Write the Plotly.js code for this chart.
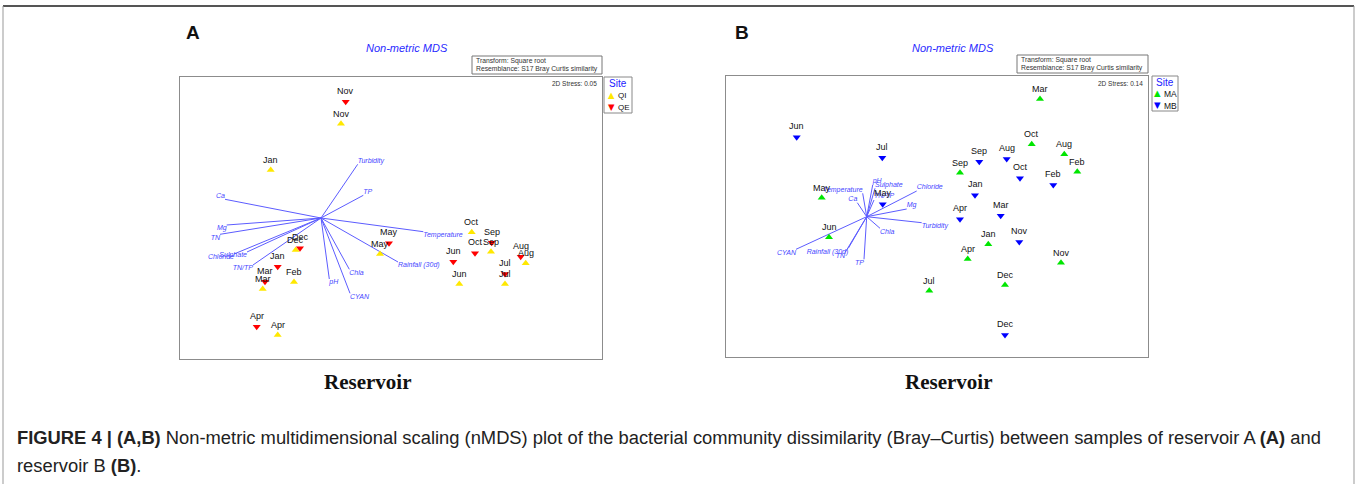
<!DOCTYPE html>
<html><head><meta charset="utf-8">
<script src="https://cdn.plot.ly/plotly-3.0.1.min.js"></script>
<style>html,body{margin:0;padding:0;background:#fff}#chart{width:1357px;height:484px}</style>
</head><body><div id="chart"></div>
<script>
// ---------- Panel A: reservoir A, sites QI / QE (nMDS coordinates) ----------
const qiMonths = ['Nov','Jan','Dec','Mar','Feb','Apr','May','Jun','Jul','Aug','Sep','Oct'];
const qiX = [-0.50,-1.203,-0.953,-1.283,-0.97,-1.133,-0.11,0.683,1.14,1.347,1.00,0.807];
const qiY = [0.943,0.48,-0.32,-0.71,-0.64,-1.17,-0.36,-0.66,-0.66,-0.453,-0.337,-0.143];
const qeMonths = ['Nov','Jan','Dec','Mar','Apr','May','Jun','Jul','Aug','Sep','Oct'];
const qeX = [-0.453,-1.133,-0.91,-1.26,-1.343,-0.02,0.623,1.14,1.297,1.007,0.84];
const qeY = [1.163,-0.487,-0.303,-0.637,-1.087,-0.253,-0.437,-0.56,-0.387,-0.247,-0.353];
const vecOriginA = [-0.70, 0.0];
const vecNamesA = ['Turbidity','TP','Ca','Mg','TN','Chloride','Sulphate','TN/TP','pH','Chla','CYAN','Rainfall (30d)','Temperature'];
const vecXA = [-0.333,-0.277,-1.66,-1.643,-1.71,-1.57,-1.44,-1.38,-0.617,-0.417,-0.41,0.07,0.323];
const vecYA = [0.537,0.227,0.187,-0.07,-0.163,-0.36,-0.34,-0.47,-0.61,-0.513,-0.753,-0.44,-0.137];

// ---------- Panel B: reservoir B, sites MA / MB ----------
const maMonths = ['Mar','Oct','Aug','Feb','Sep','Jan','Apr','Nov','Dec','Jul','May','Jun'];
const maX = [1.03,0.947,1.273,1.403,0.23,0.513,0.307,1.24,0.68,-0.077,-1.153,-1.08];
const maY = [1.175,0.722,0.622,0.448,0.438,-0.278,-0.425,-0.462,-0.685,-0.742,0.188,-0.208];
const mbMonths = ['Jun','Jul','Sep','Aug','Oct','Feb','Jan','Apr','Mar','Nov','Dec','May'];
const mbX = [-1.403,-0.547,0.423,0.697,0.83,1.163,0.38,0.23,0.637,0.823,0.68,-0.543];
const mbY = [0.792,0.588,0.548,0.575,0.382,0.315,0.212,-0.028,0.008,-0.255,-1.185,0.122];
const vecOriginB = [-0.703, -0.002];
const vecNamesB = ['Temperature','Ca','pH','Sulphate','TN/TP','Chloride','Mg','Turbidity','Chla','CYAN','Rainfall (30d)','TN','TP'];
const vecXB = [-0.743,-0.797,-0.643,-0.62,-0.63,-0.203,-0.303,-0.153,-0.57,-1.41,-0.887,-0.92,-0.73];
const vecYB = [0.232,0.138,0.315,0.282,0.165,0.255,0.075,-0.062,-0.118,-0.328,-0.318,-0.362,-0.428];

const stressA = '0.05', stressB = '0.14';

// ---------- helpers ----------
const W = 1357, H = 484;
const px = x => x / W, py = y => 1 - y / H;
const FONT = 'Liberation Sans, Arial, sans-serif';
const VEC_LINE = '#5c5cff', VEC_TXT = '#4646ff';

function vectorTraces(o, xs, ys, names, xa, ya) {
  const lx = [], ly = [];
  xs.forEach((x, i) => { lx.push(o[0], x, null); ly.push(o[1], ys[i], null); });
  const pos = xs.map((x, i) => ((ys[i] - o[1]) >= 0 ? 'top ' : 'bottom ') + ((x - o[0]) >= 0 ? 'right' : 'left'));
  return [
    {x: lx, y: ly, xaxis: xa, yaxis: ya, mode: 'lines', line: {color: VEC_LINE, width: 1}, hoverinfo: 'skip', cliponaxis: false},
    {x: xs, y: ys, xaxis: xa, yaxis: ya, mode: 'text', text: names, textposition: pos,
     textfont: {family: FONT, size: 7, color: VEC_TXT, style: 'italic'}, hoverinfo: 'skip', cliponaxis: false}
  ];
}
function markerTrace(xs, ys, sym, color, xa, ya) {
  return {x: xs, y: ys, xaxis: xa, yaxis: ya, mode: 'markers',
    marker: {symbol: sym, size: 7, color: color, line: {width: 0}}, hoverinfo: 'skip', cliponaxis: false};
}
function monthLabels(xs, ys, names, xr, yr, shift) {
  return xs.map((x, i) => ({x: x, y: ys[i], xref: xr, yref: yr, text: names[i], showarrow: false,
    yshift: shift, font: {family: FONT, size: 9, color: '#111'}}));
}
function paperText(x, y, text, size, color, opts) {
  return Object.assign({x: px(x), y: py(y), xref: 'paper', yref: 'paper', text: text, showarrow: false,
    font: {family: FONT, size: size, color: color}, xanchor: 'center', yanchor: 'middle'}, opts || {});
}

const data = [].concat(
  vectorTraces(vecOriginA, vecXA, vecYA, vecNamesA, 'x', 'y'),
  [markerTrace(qiX, qiY, 'triangle-up', '#ffe800', 'x', 'y'),
   markerTrace(qeX, qeY, 'triangle-down', '#ff0000', 'x', 'y')],
  vectorTraces(vecOriginB, vecXB, vecYB, vecNamesB, 'x2', 'y2'),
  [markerTrace(maX, maY, 'triangle-up', '#00e600', 'x2', 'y2'),
   markerTrace(mbX, mbY, 'triangle-down', '#0000ff', 'x2', 'y2')]
);

const axisBase = {showline: true, mirror: true, linecolor: '#8c8c8c', linewidth: 1, showgrid: false,
  zeroline: false, showticklabels: false, ticks: '', fixedrange: true};

const annotations = [].concat(
  monthLabels(qiX, qiY, qiMonths, 'x', 'y', 10),
  monthLabels(qeX, qeY, qeMonths, 'x', 'y', 11),
  monthLabels(maX, maY, maMonths, 'x2', 'y2', 10),
  monthLabels(mbX, mbY, mbMonths, 'x2', 'y2', 11),
  [
    paperText(193, 33, '<b>A</b>', 19, '#111'),
    paperText(742, 33, '<b>B</b>', 19, '#111'),
    paperText(407, 48.5, 'Non-metric MDS', 11, '#2a2aff', {font: {family: FONT, size: 11, color: '#2a2aff', style: 'italic'}}),
    paperText(953, 48, 'Non-metric MDS', 11, '#2a2aff', {font: {family: FONT, size: 11, color: '#2a2aff', style: 'italic'}}),
    paperText(473.5, 60.5, 'Transform: Square root', 6.8, '#333', {xanchor: 'left'}),
    paperText(473.5, 69, 'Resemblance: S17 Bray Curtis similarity', 6.8, '#333', {xanchor: 'left'}),
    paperText(1019, 59.5, 'Transform: Square root', 6.8, '#333', {xanchor: 'left'}),
    paperText(1019, 67.8, 'Resemblance: S17 Bray Curtis similarity', 6.8, '#333', {xanchor: 'left'}),
    paperText(599, 84, '2D Stress: ' + stressA, 6.5, '#333', {xanchor: 'right'}),
    paperText(1145, 83, '2D Stress: ' + stressB, 6.5, '#333', {xanchor: 'right'}),
    // legends
    paperText(618, 83.5, 'Site', 10, '#2222ff'),
    paperText(611, 95, '▲', 8.5, '#ffe800', {font: {family: 'DejaVu Sans', size: 8.5, color: '#ffe800'}}),
    paperText(616, 95.5, 'QI', 8, '#111', {xanchor: 'left'}),
    paperText(611, 107, '▼', 8.5, '#ff0000', {font: {family: 'DejaVu Sans', size: 8.5, color: '#ff0000'}}),
    paperText(616, 107.5, 'QE', 8, '#111', {xanchor: 'left'}),
    paperText(1165, 82, 'Site', 10, '#2222ff'),
    paperText(1157, 93.5, '▲', 8.5, '#00e600', {font: {family: 'DejaVu Sans', size: 8.5, color: '#00e600'}}),
    paperText(1162, 94, 'MA', 8.5, '#111', {xanchor: 'left'}),
    paperText(1157, 105.5, '▼', 8.5, '#0000ff', {font: {family: 'DejaVu Sans', size: 8.5, color: '#0000ff'}}),
    paperText(1162, 106, 'MB', 8.5, '#111', {xanchor: 'left'}),
    // panel captions
    paperText(367, 382, '<b>Reservoir</b>', 21, '#111', {font: {family: 'Liberation Serif, Times New Roman, serif', size: 21, color: '#111'}}),
    paperText(948.5, 382, '<b>Reservoir</b>', 21, '#111', {font: {family: 'Liberation Serif, Times New Roman, serif', size: 21, color: '#111'}}),
    // figure caption
    paperText(15, 437, '<b>FIGURE 4 | (A,B)</b> Non-metric multidimensional scaling (nMDS) plot of the bacterial community dissimilarity (Bray–Curtis) between samples of reservoir A <b>(A)</b> and', 18.35, '#222', {xanchor: 'left'}),
    paperText(15, 465, 'reservoir B <b>(B)</b>.', 18.35, '#222', {xanchor: 'left'})
  ]
);

const shapes = [
  // outer frame
  {type: 'line', xref: 'paper', yref: 'paper', x0: px(3), x1: px(1354), y0: py(6), y1: py(6), line: {color: '#555', width: 2}},
  {type: 'line', xref: 'paper', yref: 'paper', x0: px(3), x1: px(3), y0: py(6), y1: py(484), line: {color: '#999', width: 1}},
  {type: 'line', xref: 'paper', yref: 'paper', x0: px(1354), x1: px(1354), y0: py(6), y1: py(484), line: {color: '#999', width: 1}},
  // transform boxes
  {type: 'rect', xref: 'paper', yref: 'paper', x0: px(472), x1: px(602), y0: py(56), y1: py(74), line: {color: '#777', width: 1}},
  {type: 'rect', xref: 'paper', yref: 'paper', x0: px(1017), x1: px(1148), y0: py(55), y1: py(73), line: {color: '#777', width: 1}},
  // legend boxes
  {type: 'rect', xref: 'paper', yref: 'paper', x0: px(604), x1: px(632), y0: py(77), y1: py(113), line: {color: '#888', width: 1}},
  {type: 'rect', xref: 'paper', yref: 'paper', x0: px(1152), x1: px(1178), y0: py(76), y1: py(111), line: {color: '#888', width: 1}}
];

const layout = {
  width: W, height: H, margin: {l: 0, r: 0, t: 0, b: 0},
  paper_bgcolor: '#fff', plot_bgcolor: '#fff', showlegend: false,
  xaxis: Object.assign({}, axisBase, {domain: [px(180), px(602)], range: [-2.11, 2.11], anchor: 'y'}),
  yaxis: Object.assign({}, axisBase, {domain: [py(359), py(77)], range: [-1.41, 1.41], anchor: 'x'}),
  xaxis2: Object.assign({}, axisBase, {domain: [px(726), px(1148)], range: [-2.11, 2.11], anchor: 'y2'}),
  yaxis2: Object.assign({}, axisBase, {domain: [py(357), py(76)], range: [-1.405, 1.405], anchor: 'x2'}),
  annotations: annotations,
  shapes: shapes
};

Plotly.newPlot('chart', data, layout, {displayModeBar: false, staticPlot: true});
</script></body></html>
